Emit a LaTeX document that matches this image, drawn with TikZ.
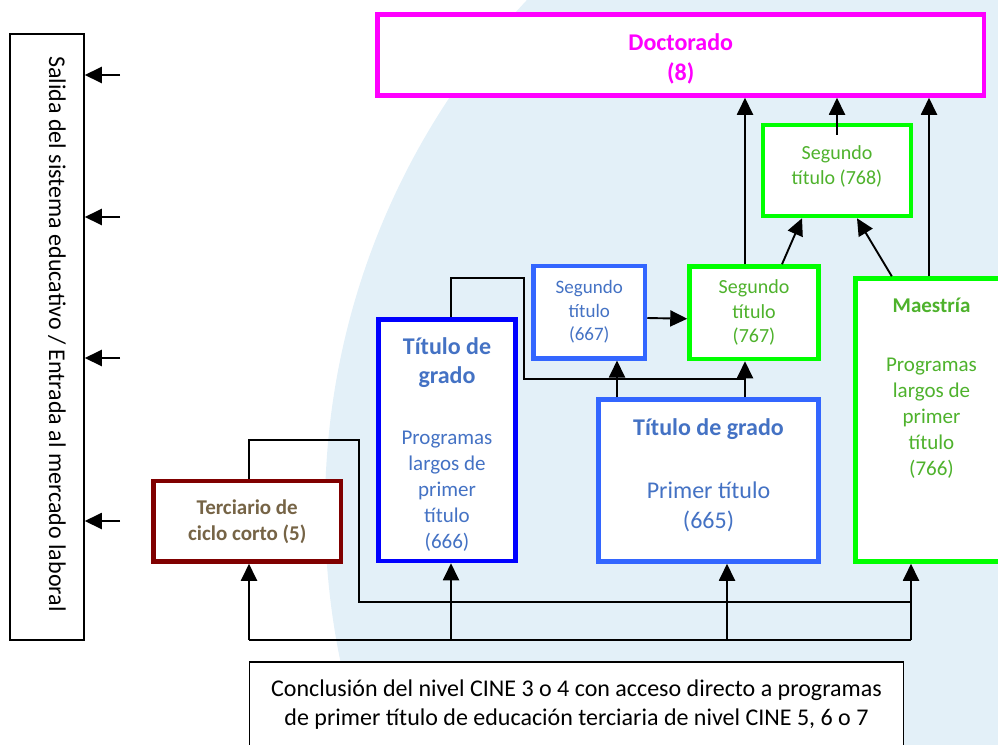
\documentclass[tikz,border=0pt]{standalone}
\usepackage{fontspec}
\setmainfont{Carlito}
\usetikzlibrary{arrows.meta}

\definecolor{magentaline}{RGB}{255,0,255}
\definecolor{greenline}{RGB}{0,255,0}
\definecolor{greentext}{RGB}{78,178,44}
\definecolor{blueline}{RGB}{0,0,255}
\definecolor{lightblueline}{RGB}{51,102,255}
\definecolor{bluetext}{RGB}{68,114,196}
\definecolor{darkredline}{RGB}{128,0,0}
\definecolor{browntext}{RGB}{118,100,70}
\definecolor{backblue}{RGB}{227,240,248}

\newcommand{\fsz}[2]{\fontsize{#1}{#2}\selectfont}

\begin{document}
\begin{tikzpicture}
  [x=1pt,y=-1pt,
   box/.style={draw,line width=4.5pt,fill=white,inner sep=0pt},
   plain/.style={draw,line width=1.5pt,fill=white,inner sep=0pt},
   txt/.style={align=center,inner sep=0pt},
   link/.style={line width=1.9pt},
   up/.style={link,-{Triangle[length=17pt,width=16pt]}}]
  \clip (0,0) rectangle (998,744);
  \fill[backblue] (1070,510) circle[radius=745];

  % boxes
  \node[plain,minimum width=74,minimum height=606] (salida) at (47,337) {};
  \node[txt,rotate=-90,font=\fsz{24}{28}] (salidatxt) at (57,334) {Salida del sistema educativo / Entrada al mercado laboral};
  \node[box,draw=magentaline,minimum width=606.5,minimum height=81] (doct) at (680.75,55) {};
  \node[box,draw=greenline,minimum width=148,minimum height=91] (s768) at (837,170.5) {};
  \node[box,draw=lightblueline,text=bluetext,minimum width=111.5,minimum height=92.5,font=\fsz{19}{23.5},align=center] (s667) at (589.25,312) {Segundo\\título\\(667)};
  \node[box,draw=greenline,text=greentext,minimum width=129,minimum height=92.5,font=\fsz{20}{24.5},align=center] (s767) at (754,312.75) {Segundo\\título\\(767)};
  \node[box,draw=blueline,minimum width=137,minimum height=241.5] (g666) at (447,440.25) {};
  \node[box,draw=lightblueline,minimum width=220,minimum height=162] (g665) at (708.5,480.5) {};
  \node[box,draw=greenline,minimum width=152.5,minimum height=283] (maes) at (931.75,420) {};
  \node[box,draw=darkredline,text=browntext,minimum width=187.5,minimum height=80.5,font=\bfseries\fsz{21}{26},align=center] (terc) at (247.25,521.25) {Terciario de\\ciclo corto (5)};
  \node[plain,minimum width=654,minimum height=120] (concl) at (576.5,722) {};

  % texts
  \node[txt,text=magentaline,font=\bfseries\fsz{24}{29.5}] (doctxt) at (680.75,59) {Doctorado\\(8)};
  \node[txt,text=greentext,font=\fsz{20}{25}] (t768) at (837,166) {Segundo\\título (768)};
  \node[txt,text=bluetext,font=\bfseries\fsz{24}{29}] (t666a) at (447,363) {Título de\\grado};
  \node[txt,text=bluetext,font=\fsz{21}{26}] (t666b) at (447,491) {Programas\\largos de\\primer\\título\\(666)};
  \node[txt,text=bluetext,font=\bfseries\fsz{24}{29}] (t665a) at (708.5,429) {Título de grado};
  \node[txt,text=bluetext,font=\fsz{24}{29.5}] (t665b) at (708.5,507) {Primer título\\(665)};
  \node[txt,text=greentext,font=\bfseries\fsz{21}{26}] (t766a) at (931.5,305) {Maestría};
  \node[txt,text=greentext,font=\fsz{21}{26}] (t766b) at (931.5,418) {Programas\\largos de\\primer\\título\\(766)};
  \node[txt,font=\fsz{24}{29}] (concltxt) at (576.5,705) {Conclusión del nivel CINE 3 o 4 con acceso directo a programas\\de primer título de educación terciaria de nivel CINE 5, 6 o 7};

  % connectors
  \coordinate (b5) at (249,640);
  \coordinate (b6) at (451,640);
  \coordinate (b65) at (727,640);
  \coordinate (b7) at (911,640);
  \coordinate (k1) at (359,440);
  \coordinate (k2) at (911,602);
  \coordinate (k3) at (524,278);
  \coordinate (k4) at (745,379);
  \coordinate (k5) at (617,379);
  \coordinate (k6) at (929,278);

  \draw[link] (b5) -- (b7);
  \foreach \from/\to in {b5/terc,b6/g666,b65/g665,b7/maes}
    \draw[up] (\from) -- (\to.south -| \from);
  \draw[link] (terc.north -| b5) |- (k1) |- (k2);
  \draw[link] (g666.north -| b6) |- (k3) |- (k4);
  \foreach \from/\to in {k5/s667,k4/s767}
    \draw[up] (g665.north -| \from) -- (\to.south -| \from);
  \draw[up] ([yshift=-6pt]s667.east) -- ([yshift=-6pt]s767.west);
  \draw[up] (s767.north -| k4) -- (doct.south -| k4);
  \draw[up] ([yshift=-12pt]s768.north) -- (doct.south -| s768.north);
  \draw[up] (maes.north -| k6) -- (doct.south -| k6);
  \draw[up] ([xshift=28pt]s767.north) -- ([xshift=-35pt]s768.south);
  \draw[up] ([xshift=-40pt]maes.north) -- ([xshift=20pt]s768.south);

  \foreach \y [count=\i] in {75,217,358,521} {
    \coordinate (o\i) at (120,\y);
    \draw[up] (o\i) -- (o\i -| salida.east);
  }
\end{tikzpicture}
\end{document}
